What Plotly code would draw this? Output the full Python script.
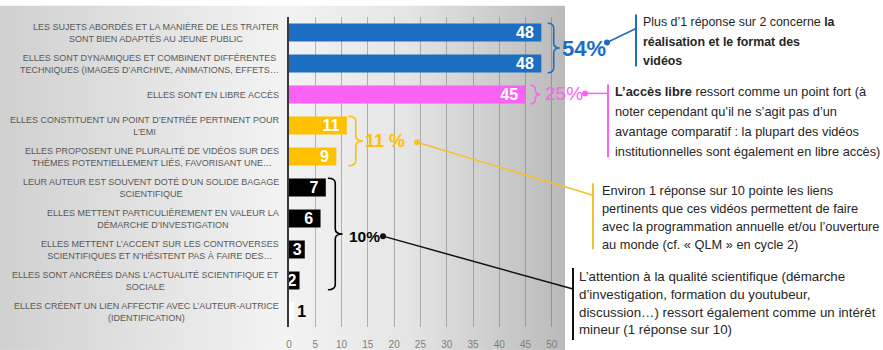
import base64
import plotly.graph_objects as go

# ---------------- data ----------------
categories = [
    "LES SUJETS ABORDÉS ET LA MANIÈRE DE LES TRAITER<br>SONT BIEN ADAPTÉS AU JEUNE PUBLIC",
    "ELLES SONT DYNAMIQUES ET COMBINENT DIFFÉRENTES<br>TECHNIQUES (IMAGES D’ARCHIVE, ANIMATIONS, EFFETS…",
    "ELLES SONT EN LIBRE ACCÈS",
    "ELLES CONSTITUENT UN POINT D’ENTRÉE PERTINENT POUR<br>L’EMI",
    "ELLES PROPOSENT UNE PLURALITÉ DE VIDÉOS SUR DES<br>THÈMES POTENTIELLEMENT LIÉS, FAVORISANT UNE…",
    "LEUR AUTEUR EST SOUVENT DOTÉ D’UN SOLIDE BAGAGE<br>SCIENTIFIQUE",
    "ELLES METTENT PARTICULIÈREMENT EN VALEUR LA<br>DÉMARCHE D’INVESTIGATION",
    "ELLES METTENT L’ACCENT SUR LES CONTROVERSES<br>SCIENTIFIQUES ET N’HÉSITENT PAS À FAIRE DES…",
    "ELLES SONT ANCRÉES DANS L’ACTUALITÉ SCIENTIFIQUE ET<br>SOCIALE",
    "ELLES CRÉENT UN LIEN AFFECTIF AVEC L’AUTEUR-AUTRICE<br>(IDENTIFICATION)",
]
values = [48, 48, 45, 11, 9, 7, 6, 3, 2, 1]
x_ticks = [0, 5, 10, 15, 20, 25, 30, 35, 40, 45, 50]

# groups: (first index, last index, label)
group_first = [0, 2, 3, 5]
group_last = [1, 2, 4, 8]
group_labels = ["54%", "25%", "11 %", "10%"]

comment_blue = ["Plus d’1 réponse sur 2 concerne <b>la</b>",
                "<b>réalisation et le format des</b>",
                "<b>vidéos</b>"]
comment_pink = ["<b>L’accès libre</b> ressort comme un point fort (à",
                "noter cependant qu’il ne s’agit pas d’un",
                "avantage comparatif : la plupart des vidéos",
                "institutionnelles sont également en libre accès)"]
comment_gold = ["Environ 1 réponse sur 10 pointe les liens",
                "pertinents que ces vidéos permettent de faire",
                "avec la programmation annuelle et/ou l’ouverture",
                "au monde (cf. « QLM » en cycle 2)"]
comment_black = ["L’attention à la qualité scientifique (démarche",
                 "d’investigation, formation du youtubeur,",
                 "discussion…) ressort également comme un intérêt",
                 "mineur (1 réponse sur 10)"]

# ---------------- styles ----------------
BLUE = "#1B6EC2"
PINK = "#F962F5"
GOLD = "#FFC000"
BLACK = "#000000"
bar_colors = [BLUE, BLUE, PINK, GOLD, GOLD, BLACK, BLACK, BLACK, BLACK, "#FFFFFF"]
group_colors = [BLUE, PINK, GOLD, BLACK]
FONT = "Liberation Sans, Arial, sans-serif"

W, H = 883, 350
PL, PR = 289, 565
PT, PB = 16.5, 327


def px(x):
    return (x - PL) / (PR - PL)


def py(y):
    return (PB - y) / (PB - PT)


fig = go.Figure(go.Bar(
    y=categories, x=values, orientation="h",
    marker=dict(color=bar_colors, line=dict(width=0)),
    width=0.58,
    texttemplate=["%{x} " if v >= 5 else "%{x}" for v in values],
    textposition=["inside" if v > 1 else "outside" for v in values],
    insidetextanchor="end", textangle=0, constraintext="none",
    textfont=dict(family=FONT, size=16, weight="bold",
                  color=["white" if v > 1 else "black" for v in values]),
    cliponaxis=False, hoverinfo="skip",
))

# gradient background (svg image)
svg = ('<svg xmlns="http://www.w3.org/2000/svg" viewBox="0 0 100 100" preserveAspectRatio="none">'
       '<defs><linearGradient id="g" x1="0" y1="0" x2="1" y2="0">'
       '<stop offset="0" stop-color="#d0d0d0"/><stop offset="0.5" stop-color="#f3f3f3"/>'
       '<stop offset="0.72" stop-color="#e5e5e5"/><stop offset="1" stop-color="#bababa"/>'
       '</linearGradient></defs><rect width="100" height="100" fill="url(#g)"/></svg>')
svg_uri = "data:image/svg+xml;base64," + base64.b64encode(svg.encode()).decode()

shapes = []
annotations = []

# category labels (centered lines, right-anchored)
for c in categories:
    annotations.append(dict(x=px(280), xref="paper", y=c, yref="y", text=c, showarrow=False,
                            xanchor="right", yanchor="middle", align="center", borderpad=0,
                            font=dict(family=FONT, size=9, color="#595959")))

# braces
brace_dx = [1.2, 0.9, 0.3, 0.4]
brace_w = [2.3, 1.9, 2.8, 2.8]
for gi in range(4):
    a, b = group_first[gi], group_last[gi]
    xm = max(values[a:b + 1]) + brace_dx[gi]
    w = brace_w[gi]
    y0, y1 = a - 0.3, b + 0.3
    ym = (y0 + y1) / 2
    r = min(0.16, (y1 - y0) / 4)
    h = xm + w / 2
    path = (f"M {xm},{y0} Q {h},{y0} {h},{y0 + r} L {h},{ym - r} Q {h},{ym} {xm + w},{ym} "
            f"Q {h},{ym} {h},{ym + r} L {h},{y1 - r} Q {h},{y1} {xm},{y1}")
    shapes.append(dict(type="path", path=path, xref="x", yref="y",
                       line=dict(color=group_colors[gi], width=1.6)))

# percentage labels
pct_pos = [(561, 48, 22, "bold"), (544, 93, 19, "normal"), (364, 141, 18, "bold"), (348, 236, 15.5, "bold")]
for gi, (xx, yy, sz, wt) in enumerate(pct_pos):
    annotations.append(dict(x=px(xx), y=py(yy), xref="paper", yref="paper", text=group_labels[gi],
                            showarrow=False, xanchor="left", yanchor="middle", borderpad=0,
                            font=dict(family=FONT, size=sz, color=group_colors[gi], weight=wt)))

# connectors: dot, line, vertical bar
conn = [
    ((607, 42), (636, 28), (636, 14, 66)),
    ((585, 93), (608, 93), (608, 84, 157)),
    ((417, 142), (593, 195), (593, 183, 249)),
    ((383, 236), (573, 289), (573, 268, 340)),
]
line_colors = [BLUE, PINK, "#F2C230", "#111111"]
for gi, ((dx, dy), (ex, ey), (vx, vy0, vy1)) in enumerate(conn):
    col = line_colors[gi]
    shapes.append(dict(type="line", xref="paper", yref="paper", x0=px(dx), y0=py(dy), x1=px(ex), y1=py(ey),
                       line=dict(color=col, width=1.5)))
    shapes.append(dict(type="line", xref="paper", yref="paper", x0=px(vx), y0=py(vy0), x1=px(vx), y1=py(vy1),
                       line=dict(color=col, width=2)))
    shapes.append(dict(type="circle", xref="paper", yref="paper", x0=px(dx - 3), x1=px(dx + 3),
                       y0=py(dy + 3), y1=py(dy - 3), fillcolor=col, line=dict(width=0)))

# comment texts, one annotation per line
comments = [(comment_blue, 642, 22, 19.5, 12.4), (comment_pink, 614, 91, 20, 12.8),
            (comment_gold, 601, 190, 18, 12.8), (comment_black, 578, 276, 18, 13.3)]
for lines, xx, y0, dy, sz in comments:
    for k, txt in enumerate(lines):
        annotations.append(dict(x=px(xx), y=py(y0 + k * dy), xref="paper", yref="paper", text=txt,
                                showarrow=False, xanchor="left", yanchor="middle", align="left",
                                borderpad=0, font=dict(family=FONT, size=sz, color="#262626")))

fig.update_layout(
    width=W, height=H,
    margin=dict(l=PL, r=W - PR, t=PT, b=H - PB, pad=0, autoexpand=False),
    paper_bgcolor="white", plot_bgcolor="rgba(0,0,0,0)",
    showlegend=False, bargap=0.42,
    shapes=shapes, annotations=annotations,
    images=[dict(source=svg_uri, xref="paper", yref="paper", x=px(0), y=py(5),
                 sizex=px(565) - px(0), sizey=py(5) - py(350), sizing="stretch",
                 xanchor="left", yanchor="top", layer="below")],
    xaxis=dict(range=[0, 52.5], tickvals=x_ticks, showgrid=True, gridcolor="rgba(100,100,100,0.45)",
               gridwidth=1, zeroline=False, showline=False, ticks="outside", ticklen=8,
               tickcolor="rgba(0,0,0,0)", tickfont=dict(family=FONT, size=10, color="#7f7f7f"),
               automargin=False, fixedrange=True),
    yaxis=dict(range=[9.5, -0.5], showticklabels=False, showgrid=False, zeroline=False,
               showline=True, linecolor="#3a3a3a", linewidth=1.5, ticks="", automargin=False,
               fixedrange=True),
)

fig.write_html("out.html", config=dict(displayModeBar=False),
               post_script="document.body.style.margin='0';document.body.style.overflow='hidden';")
